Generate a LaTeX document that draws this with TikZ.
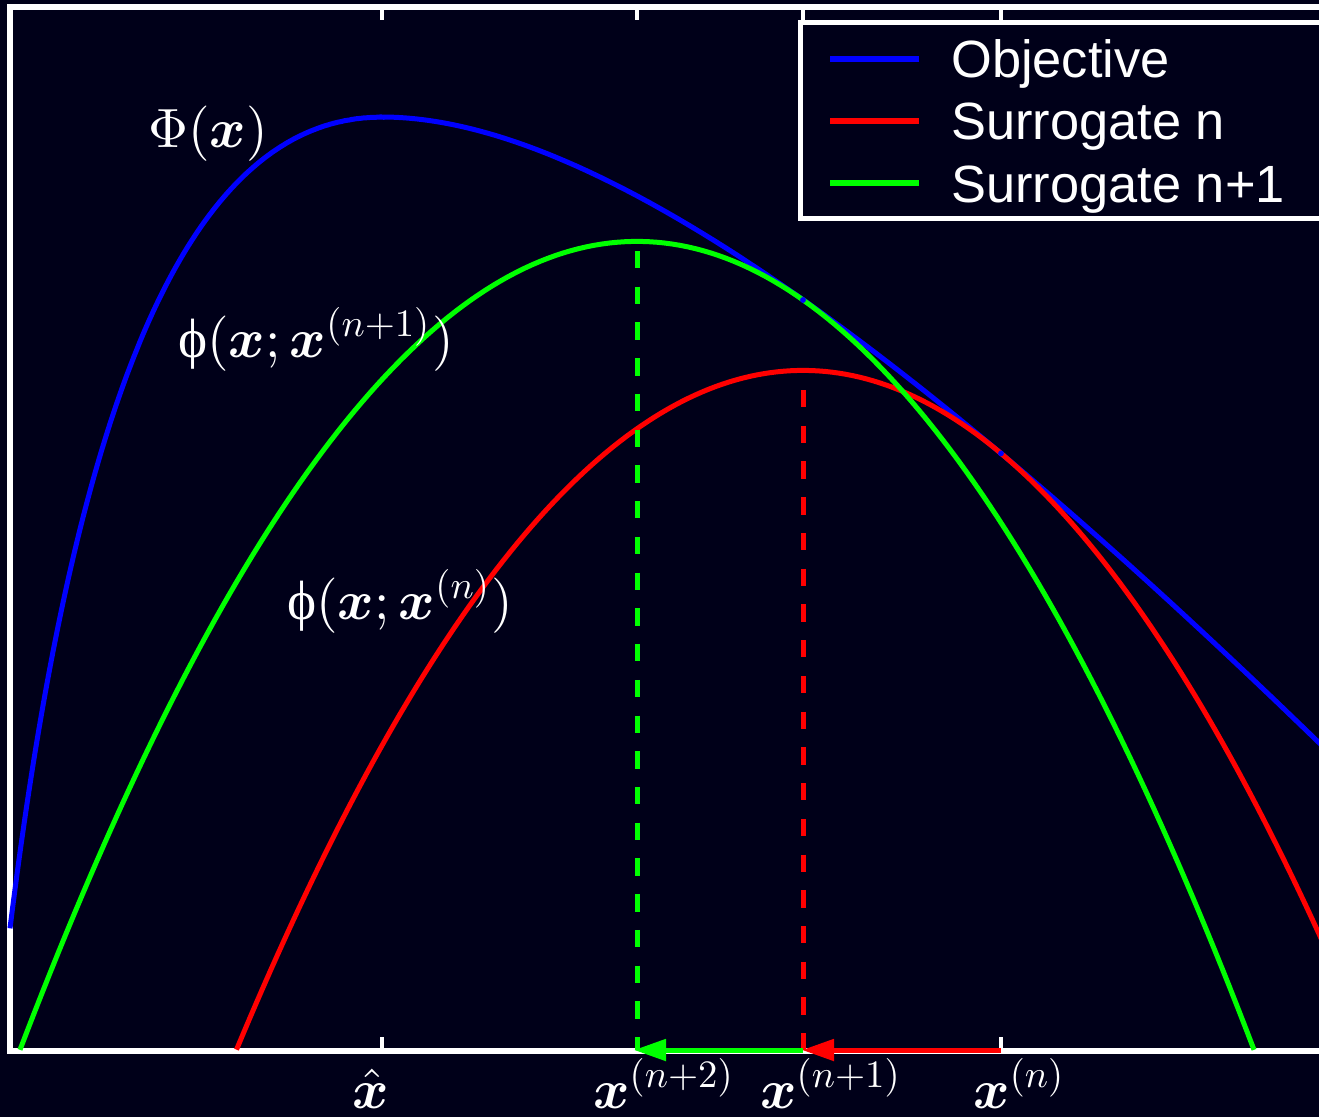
\documentclass[tikz,border=0pt]{standalone}
\usepackage{fontspec}
\usepackage{bm}
\usetikzlibrary{arrows.meta}
\newfontfamily\legfont{Liberation Sans}
\newfontfamily\phifont{Liberation Serif}
\definecolor{bgc}{RGB}{0,0,25}
\definecolor{cblue}{RGB}{0,0,255}
\definecolor{cred}{RGB}{255,0,0}
\definecolor{cgreen}{RGB}{0,255,0}
\newcommand{\lbl}[1]{\scalebox{4.15}{#1}}
\newcommand{\sps}[1]{^{\scalebox{0.7}{$#1$}}}
\tikzset{
  spine/.style={draw=white, line width=4.5pt},
  tickmark/.style={draw=white, line width=3.6pt},
  curve/.style={line width=3.75pt},
  dashv/.style={line width=3.75pt, dash pattern=on 13pt off 13.8pt},
  steparrow/.style={line width=3.75pt, -{Triangle[length=24pt,width=15.75pt]}},
  lab/.style={text=white, inner sep=0pt, anchor=base west},
  legline/.style={line width=4.5pt},
  legtext/.style={text=white, inner sep=0pt, anchor=base west, font=\legfont\fontsize{39.3}{46}\selectfont},
}
\begin{document}
\begin{tikzpicture}[x=0.75pt, y=-0.75pt,
  declare function={
    phiL(\x)=117+1150*((\x+100)/482-1-ln((\x+100)/482));
    phiR(\x)=117+577*((\x+31)/413-1-ln((\x+31)/413));
    sred(\x)=370.4+((\x-803)*0.046)^2;
    sgreen(\x)=241.4+((\x-637)*0.046087)^2;
  }]
\fill[bgc] (0,0) rectangle (1319,1117);
\useasboundingbox (0,0) rectangle (1319,1117);
\begin{scope}
\clip (0,0) rectangle (1319,1117);
% axes
\draw[spine] (10,1051) -- (10,7) -- (1330,7);
\draw[spine] (7,1051) -- (1330,1051);
\foreach \t in {382,637,803,1001} {
  \draw[tickmark] (\t,9) -- (\t,20);
  \draw[tickmark] (\t,1049) -- (\t,1037);
}
% curves
\draw[curve, cblue] plot[domain=10:382, samples=160] (\x,{phiL(\x)})
   -- plot[domain=382:1325, samples=160] (\x,{phiR(\x)});
\draw[curve, cred] plot[domain=236.5:1325, samples=160] (\x,{sred(\x)});
\draw[curve, cgreen] plot[domain=20:1254, samples=160] (\x,{sgreen(\x)});
% dashed verticals
\coordinate (gtop) at (637,251);
\coordinate (gbot) at (637,1050);
\coordinate (rtop) at (803,390);
\coordinate (rbot) at (803,1050);
\draw[dashv, cgreen] (gtop) -- (gbot);
\draw[dashv, cred] (rtop) -- (rbot);
% tangent markers
\fill[cblue] (803,300) circle (2.2pt);
\fill[cblue] (1001,453.4) circle (2.2pt);
% step arrows
\coordinate (xn) at (1001,1050);
\coordinate (xn1) at (802,1050);
\coordinate (xn2) at (634,1050);
\draw[steparrow, cred] (xn) -- (xn1);
\draw[steparrow, cgreen] (803,1050) -- (xn2);
% legend
\draw[fill=bgc, draw=white, line width=3.75pt] (800,22) rectangle (1330,218);
\draw[legline, cblue] (830,59) -- (919,59);
\draw[legline, cred] (830,121) -- (919,121);
\draw[legline, cgreen] (830,183) -- (919,183);
\node[legtext] (l1) at (951,77) {Objective};
\node[legtext] (l2) at (951,139) {Surrogate n};
\node[legtext] (l3) at (951,202) {Surrogate n+1};
\end{scope}
% labels
\node[lab] (lPhi) at (148,147) {\lbl{$\Phi(\bm{x})$}};
\node[lab] (lphi1) at (178,357) {\lbl{{\phifont ϕ}$(\bm{x};\bm{x}\sps{(n{+}1)})$}};
\node[lab] (lphi0) at (287,619) {\lbl{{\phifont ϕ}$(\bm{x};\bm{x}\sps{(n)})$}};
\node[lab] (txhat) at (352,1108) {\lbl{$\hat{\bm{x}}$}};
\node[lab] (tx2) at (593,1108) {\lbl{$\bm{x}\sps{(n{+}2)}$}};
\node[lab] (tx1) at (760,1108) {\lbl{$\bm{x}\sps{(n{+}1)}$}};
\node[lab] (tx0) at (973,1108) {\lbl{$\bm{x}\sps{(n)}$}};
\end{tikzpicture}
\end{document}
